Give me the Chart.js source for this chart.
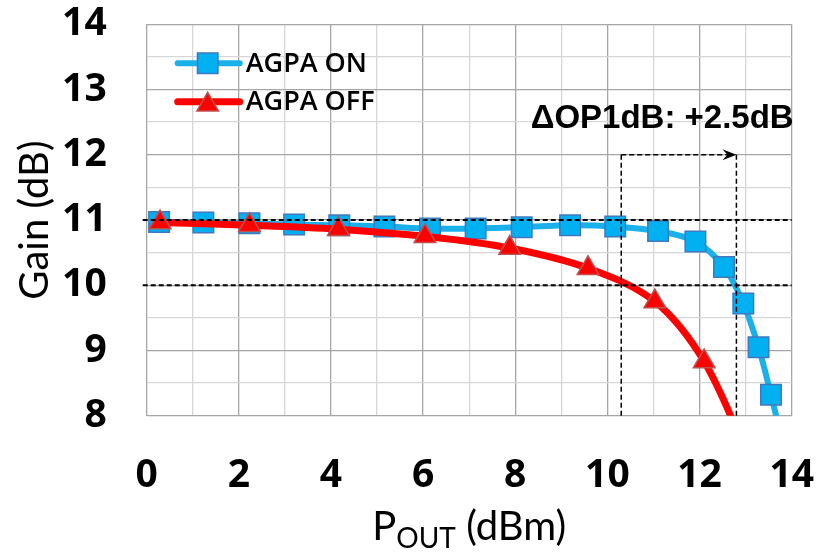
<!DOCTYPE html>
<html>
<head>
<meta charset="utf-8">
<script src="https://cdn.jsdelivr.net/npm/chart.js@4.4.1/dist/chart.umd.min.js"></script>
<style>
  html, body { margin: 0; padding: 0; background: #fff; }
  canvas { display: block; }
</style>
</head>
<body>
<canvas id="gain" width="816" height="558"></canvas>
<script>
// Output power (dBm) and gain (dB), amplifier with AGPA enabled
const onPout = [0.27, 1.23, 2.23, 3.20, 4.18, 5.16, 6.15, 7.14, 8.14, 9.19, 10.17, 11.10, 11.91, 12.53, 12.95, 13.28, 13.55, 13.80];
const onGain = [10.97, 10.96, 10.95, 10.93, 10.92, 10.90, 10.87, 10.87, 10.89, 10.92, 10.90, 10.83, 10.67, 10.28, 9.72, 9.05, 8.32, 7.60];

// Same amplifier with AGPA disabled
const offPout = [0.29, 2.23, 4.16, 6.04, 7.88, 9.58, 11.03, 12.10, 13.10];
const offGain = [10.96, 10.92, 10.86, 10.75, 10.57, 10.26, 9.75, 8.83, 7.30];

// Axis ranges
const poutRange = [0, 14];
const gainRange = [8, 14];

// Small-signal gain and the 1 dB compression level
const compressionRefs = [11, 10];

// Output 1 dB compression points and the level of the arrow joining them
const op1dbOff = 10.3;
const op1dbOn = 12.8;
const arrowGain = 12;

const seriesNames = ['AGPA ON', 'AGPA OFF'];

const ON_LINE = '#1AB0EA';
const ON_FILL = '#00B0F0';
const ON_EDGE = '#3F78BE';
const OFF_LINE = '#FF0000';
const OFF_FILL = '#FF0000';
const OFF_EDGE = '#C0504D';

const TICK_FONT = { family: '"Open Sans", sans-serif', weight: 'bold', size: 39 };

function drawMarker(ctx, style, cx, cy, r, fill, edge, bw) {
  ctx.save();
  ctx.fillStyle = fill;
  ctx.strokeStyle = edge;
  ctx.lineWidth = bw;
  ctx.setLineDash([]);
  ctx.beginPath();
  if (style === 'rect') {
    const s = Math.SQRT1_2 * r;
    ctx.rect(cx - s, cy - s, 2 * s, 2 * s);
  } else {
    let rad = 0;
    ctx.moveTo(cx + Math.sin(rad) * r, cy - Math.cos(rad) * r);
    rad += 2 * Math.PI / 3;
    ctx.lineTo(cx + Math.sin(rad) * r, cy - Math.cos(rad) * r);
    rad += 2 * Math.PI / 3;
    ctx.lineTo(cx + Math.sin(rad) * r, cy - Math.cos(rad) * r);
    ctx.closePath();
  }
  ctx.fill();
  ctx.stroke();
  ctx.restore();
}

const annotations = {
  id: 'annotations',
  afterDatasetsDraw(chart) {
    const { ctx, chartArea: a, scales: { x, y } } = chart;
    ctx.save();
    ctx.strokeStyle = '#000';
    ctx.fillStyle = '#000';

    // reference gain levels
    ctx.setLineDash([5, 3]);
    ctx.lineWidth = 2;
    compressionRefs.forEach(g => {
      const py = y.getPixelForValue(g);
      ctx.beginPath();
      ctx.moveTo(a.left - 4, py);
      ctx.lineTo(a.right, py);
      ctx.stroke();
    });

    // OP1dB drop lines
    const top = y.getPixelForValue(arrowGain);
    const x1 = x.getPixelForValue(op1dbOff);
    const x2 = x.getPixelForValue(op1dbOn);
    ctx.lineWidth = 1.5;
    [x1, x2].forEach(px => {
      ctx.beginPath();
      ctx.moveTo(px, top);
      ctx.lineTo(px, a.bottom);
      ctx.stroke();
    });

    // arrow between the two compression points
    ctx.beginPath();
    ctx.moveTo(x1, top);
    ctx.lineTo(x2 - 8, top);
    ctx.stroke();
    ctx.setLineDash([]);
    ctx.beginPath();
    ctx.moveTo(x2, top);
    ctx.lineTo(x2 - 14, top - 5.5);
    ctx.lineTo(x2 - 9, top);
    ctx.lineTo(x2 - 14, top + 5.5);
    ctx.closePath();
    ctx.fill();

    // delta label
    const delta = (op1dbOn - op1dbOff).toFixed(1);
    ctx.font = 'bold 33px "Liberation Sans", Arial, sans-serif';
    ctx.textAlign = 'right';
    ctx.textBaseline = 'alphabetic';
    ctx.fillText('\u0394OP1dB: +' + delta + 'dB', a.right + 2, top - 27);

    // legend
    const items = [
      { name: seriesNames[0], line: ON_LINE, fill: ON_FILL, edge: ON_EDGE, style: 'rect', r: 14.5, lw: 6, bw: 1.5 },
      { name: seriesNames[1], line: OFF_LINE, fill: OFF_FILL, edge: OFF_EDGE, style: 'triangle', r: 12.5, lw: 7, bw: 1.5 }
    ];
    items.forEach((it, i) => {
      const ly = a.top + 39 + i * 38.5;
      ctx.strokeStyle = it.line;
      ctx.lineWidth = it.lw;
      ctx.lineCap = 'round';
      ctx.beginPath();
      ctx.moveTo(a.left + 31, ly);
      ctx.lineTo(a.left + 93, ly);
      ctx.stroke();
      drawMarker(ctx, it.style, a.left + 61, ly + (it.style === 'triangle' ? 3 : 0), it.r, it.fill, it.edge, it.bw);
      ctx.fillStyle = '#000';
      ctx.font = '600 27px "Open Sans", sans-serif';
      ctx.textAlign = 'left';
      ctx.textBaseline = 'middle';
      ctx.fillText(it.name, a.left + 99, ly + 1);
    });
    ctx.restore();
  },
  afterDraw(chart) {
    const { ctx, chartArea: a } = chart;
    ctx.save();
    ctx.fillStyle = '#000';
    ctx.textBaseline = 'alphabetic';

    // y title
    ctx.save();
    ctx.translate(48, (a.top + a.bottom) / 2);
    ctx.rotate(-Math.PI / 2);
    ctx.font = '40px Lato, sans-serif';
    ctx.textAlign = 'center';
    ctx.fillText('Gain (dB)', 0, 0);
    ctx.restore();

    // x title with subscript
    const big = '40px Lato, sans-serif';
    const small = '28px Lato, sans-serif';
    ctx.textAlign = 'left';
    ctx.font = big;
    const wP = ctx.measureText('P').width;
    const wRest = ctx.measureText(' (dBm)').width;
    ctx.font = small;
    const wSub = ctx.measureText('OUT').width;
    let sx = (a.left + a.right) / 2 - (wP + wSub + wRest) / 2;
    const base = 540;
    ctx.font = big;
    ctx.fillText('P', sx, base);
    sx += wP;
    ctx.font = small;
    ctx.fillText('OUT', sx, base + 8);
    sx += wSub;
    ctx.font = big;
    ctx.fillText(' (dBm)', sx, base);
    ctx.restore();
  }
};

const toPoints = (xs, ys) => xs.map((v, i) => ({ x: v, y: ys[i] }));

new Chart(document.getElementById('gain'), {
  type: 'line',
  data: {
    datasets: [
      {
        label: seriesNames[0],
        data: toPoints(onPout, onGain),
        borderColor: ON_LINE,
        borderWidth: 6,
        borderCapStyle: 'round',
        pointStyle: 'rect',
        pointRadius: 14.5,
        pointBackgroundColor: ON_FILL,
        pointBorderColor: ON_EDGE,
        pointBorderWidth: 1.5,
        tension: 0.35,
        order: 1
      },
      {
        label: seriesNames[1],
        data: toPoints(offPout, offGain),
        borderColor: OFF_LINE,
        borderWidth: 7,
        borderCapStyle: 'round',
        pointStyle: 'triangle',
        pointRadius: 12.5,
        pointBackgroundColor: OFF_FILL,
        pointBorderColor: OFF_EDGE,
        pointBorderWidth: 1.5,
        tension: 0.35,
        order: 0
      }
    ]
  },
  options: {
    responsive: false,
    animation: false,
    devicePixelRatio: 1,
    elements: { line: { capBezierPoints: false } },
    layout: { padding: { left: 0, right: 24.3, top: 24.3, bottom: 0 } },
    plugins: { legend: { display: false }, tooltip: { enabled: false } },
    scales: {
      x: {
        type: 'linear',
        min: poutRange[0],
        max: poutRange[1],
        border: { display: false },
        grid: {
          drawTicks: false,
          lineWidth: 1.3,
          color: c => (c.tick && c.tick.value % 2 === 0) ? '#A6A6A6' : '#D6D6D6'
        },
        ticks: {
          stepSize: 1,
          autoSkip: false,
          maxRotation: 0,
          padding: 37,
          color: '#000',
          font: TICK_FONT,
          callback: v => (v % 2 === 0 ? String(v) : '')
        },
        afterFit: s => {
          s.height = 142.3;
          s.paddingLeft = 0;
          s.paddingRight = 0;
        }
      },
      y: {
        min: gainRange[0],
        max: gainRange[1],
        border: { display: false },
        grid: {
          drawTicks: false,
          lineWidth: 1.3,
          color: c => (c.tick && Number.isInteger(c.tick.value)) ? '#A6A6A6' : '#D6D6D6'
        },
        ticks: {
          stepSize: 0.5,
          autoSkip: false,
          padding: 40,
          color: '#000',
          font: TICK_FONT,
          callback: v => (Number.isInteger(v) ? String(v) : '')
        },
        afterFit: s => {
          s.width = 146.7;
          s.paddingTop = 0;
          s.paddingBottom = 0;
        }
      }
    }
  },
  plugins: [annotations]
});
</script>
</body>
</html>
